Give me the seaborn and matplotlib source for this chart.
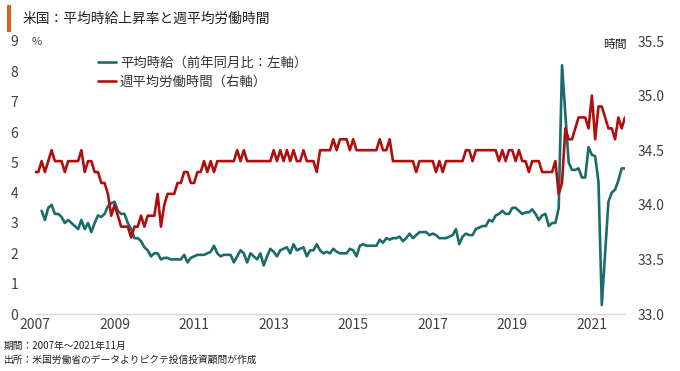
import numpy as np
import pandas as pd
import matplotlib
matplotlib.use("Agg")
import matplotlib.pyplot as plt
from matplotlib.patches import Rectangle
import seaborn as sns

# ---------------- data (monthly, Jan 2007 - Nov 2021) ----------------
nan = np.nan
wage_yoy = [
    # 2007
    nan, nan, 3.4, 3.1, 3.5, 3.6, 3.3, 3.3, 3.2, 3.0, 3.1, 3.0,
    # 2008
    2.9, 2.8, 3.1, 2.8, 3.0, 2.7, 3.0, 3.25, 3.2, 3.3, 3.55, 3.65,
    # 2009
    3.7, 3.4, 3.3, 3.3, 3.0, 2.8, 2.5, 2.5, 2.4, 2.2, 2.1, 1.9,
    # 2010
    2.0, 2.0, 1.8, 1.85, 1.85, 1.8, 1.8, 1.8, 1.8, 1.95, 1.7, 1.85,
    # 2011
    1.9, 1.95, 1.95, 1.95, 2.0, 2.05, 2.25, 2.0, 1.9, 1.95, 1.95, 1.95,
    # 2012
    1.7, 1.9, 2.1, 2.0, 1.7, 2.0, 1.9, 1.8, 2.0, 1.6, 1.9, 2.15,
    # 2013
    2.05, 1.9, 2.1, 2.15, 2.2, 2.0, 2.3, 2.1, 2.15, 2.2, 1.9, 2.1,
    # 2014
    2.1, 2.3, 2.1, 2.0, 2.05, 2.0, 2.15, 2.05, 2.0, 2.0, 2.0, 2.15,
    # 2015
    2.1, 1.9, 2.25, 2.3, 2.25, 2.25, 2.25, 2.25, 2.45, 2.35, 2.5, 2.45,
    # 2016
    2.5, 2.5, 2.55, 2.4, 2.5, 2.65, 2.5, 2.6, 2.7, 2.7, 2.7, 2.6,
    # 2017
    2.65, 2.6, 2.5, 2.5, 2.5, 2.55, 2.6, 2.8, 2.3, 2.55, 2.65, 2.6,
    # 2018
    2.6, 2.8, 2.85, 2.9, 2.9, 3.1, 3.05, 3.25, 3.3, 3.4, 3.3, 3.3,
    # 2019
    3.5, 3.5, 3.4, 3.3, 3.35, 3.35, 3.45, 3.3, 3.1, 3.25, 3.3, 2.9,
    # 2020
    3.0, 3.0, 3.5, 8.2, 6.6, 5.0, 4.75, 4.75, 4.8, 4.5, 4.5, 5.5,
    # 2021
    5.25, 5.2, 4.35, 0.3, 2.0, 3.7, 4.0, 4.1, 4.4, 4.8, 4.8,
]

weekly_hours = [
    # 2007
    34.3, 34.3, 34.4, 34.3, 34.4, 34.5, 34.4, 34.4, 34.4, 34.3, 34.4, 34.4,
    # 2008
    34.4, 34.4, 34.5, 34.3, 34.4, 34.4, 34.3, 34.3, 34.2, 34.2, 34.1, 33.9,
    # 2009
    34.0, 33.9, 33.8, 33.8, 33.8, 33.7, 33.8, 33.8, 33.9, 33.8, 33.9, 33.9,
    # 2010
    33.9, 34.1, 33.8, 34.0, 34.1, 34.1, 34.1, 34.2, 34.2, 34.3, 34.3, 34.2,
    # 2011
    34.2, 34.3, 34.3, 34.4, 34.3, 34.4, 34.3, 34.4, 34.4, 34.4, 34.4, 34.4,
    # 2012
    34.4, 34.5, 34.4, 34.5, 34.4, 34.4, 34.4, 34.4, 34.4, 34.4, 34.4, 34.4,
    # 2013
    34.5, 34.4, 34.5, 34.4, 34.5, 34.4, 34.5, 34.4, 34.4, 34.5, 34.4, 34.4,
    # 2014
    34.4, 34.3, 34.5, 34.5, 34.5, 34.5, 34.6, 34.5, 34.6, 34.6, 34.6, 34.5,
    # 2015
    34.6, 34.5, 34.5, 34.5, 34.5, 34.5, 34.5, 34.5, 34.6, 34.5, 34.5, 34.6,
    # 2016
    34.4, 34.4, 34.4, 34.4, 34.4, 34.4, 34.4, 34.3, 34.4, 34.4, 34.4, 34.4,
    # 2017
    34.4, 34.3, 34.4, 34.3, 34.4, 34.4, 34.4, 34.4, 34.4, 34.4, 34.5, 34.5,
    # 2018
    34.4, 34.5, 34.5, 34.5, 34.5, 34.5, 34.5, 34.5, 34.4, 34.5, 34.4, 34.5,
    # 2019
    34.5, 34.4, 34.5, 34.4, 34.4, 34.3, 34.4, 34.4, 34.4, 34.3, 34.3, 34.3,
    # 2020
    34.3, 34.4, 34.1, 34.2, 34.7, 34.6, 34.6, 34.7, 34.8, 34.8, 34.8, 34.7,
    # 2021
    35.0, 34.6, 34.9, 34.9, 34.8, 34.7, 34.7, 34.6, 34.8, 34.7, 34.8,
]

year_labels = ["2007", "2009", "2011", "2013", "2015", "2017", "2019", "2021"]
left_ticks = [0, 1, 2, 3, 4, 5, 6, 7, 8, 9]
right_ticks = [33.0, 33.5, 34.0, 34.5, 35.0, 35.5]

title = "米国：平均時給上昇率と週平均労働時間"
label_wage = "平均時給（前年同月比：左軸）"
label_hours = "週平均労働時間（右軸）"
note1 = "期間：2007年～2021年11月"
note2 = "出所：米国労働省のデータよりピクテ投信投資顧問が作成"

df = pd.DataFrame({
    "month": np.arange(len(weekly_hours)),
    "wage": wage_yoy,
    "hours": weekly_hours,
})

# ---------------- style ----------------
sns.set_style("white")
plt.rcParams["font.family"] = ["Noto Sans CJK JP", "DejaVu Sans"]

TEAL = "#1c6b6c"
RED = "#b00f0f"
TXT = "#404040"

fig = plt.figure(figsize=(6.8, 3.71), dpi=100)
W, H = 680, 371
x0, x1 = 35, 625
y_top, y_bot = 41, 314
ax = fig.add_axes([x0 / W, 1 - y_bot / H, (x1 - x0) / W, (y_bot - y_top) / H])
ax2 = ax.twinx()

sns.lineplot(data=df, x="month", y="wage", ax=ax, color=TEAL, lw=1.9, legend=False)
sns.lineplot(data=df, x="month", y="hours", ax=ax2, color=RED, lw=1.9, legend=False)

ax.set_xlim(0, len(weekly_hours) - 1)
ax.set_ylim(0, 9)
ax2.set_ylim(33.0, 35.5)

ax.set_xticks(np.arange(0, 24 * len(year_labels), 24))
ax.set_xticklabels(year_labels)
ax.set_yticks(left_ticks)
ax.set_yticklabels([str(v) for v in left_ticks])
ax2.set_yticks(right_ticks)
ax2.set_yticklabels([f"{v:.1f}" for v in right_ticks])

for a in (ax, ax2):
    a.set_xlabel("")
    a.set_ylabel("")
    for s in a.spines.values():
        s.set_visible(False)
    a.tick_params(length=0, labelsize=10, colors=TXT)
    a.grid(False)
ax.spines["bottom"].set_visible(True)
ax.spines["bottom"].set_color("#d9d9d9")
ax.spines["bottom"].set_linewidth(1.0)
ax.tick_params(axis="y", pad=12)
ax.tick_params(axis="x", pad=3)
ax2.tick_params(axis="y", pad=9)

# legend
h1 = ax.get_lines()[0]
h2 = ax2.get_lines()[0]
leg = ax.legend([h1, h2], [label_wage, label_hours], loc="upper left",
                bbox_to_anchor=((98 - x0) / (x1 - x0), (y_bot - 56) / (y_bot - y_top)),
                frameon=False, fontsize=9.6, handlelength=1.35, handletextpad=0.3,
                labelspacing=0.32, borderaxespad=0, borderpad=0)
for t in leg.get_texts():
    t.set_color("#333333")

# title, units, notes
fig.patches.append(Rectangle((7 / W, 1 - 32 / H), 4 / W, 27 / H, transform=fig.transFigure,
                             color="#d4622a", lw=0))
fig.text(23 / W, 1 - 19 / H, title, fontsize=9.9, va="center", ha="left", color="#222222")
fig.text(37 / W, 1 - 42 / H, "%", fontsize=8, va="center", ha="center", color=TXT)
fig.text(615 / W, 1 - 44 / H, "時間", fontsize=8.5, va="center", ha="center", color="#222222")
fig.text(4 / W, 1 - 346 / H, note1, fontsize=7, va="center", ha="left", color="#222222")
fig.text(4 / W, 1 - 360 / H, note2, fontsize=7, va="center", ha="left", color="#222222")

fig.savefig("out.png", dpi=100)
